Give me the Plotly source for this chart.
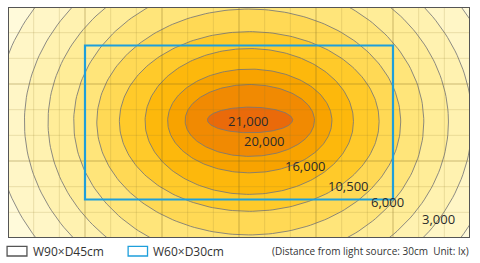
import numpy as np
import plotly.graph_objects as go

# ---- data (cm; x from left edge, y from top edge of a W90 x D45 area) ----
area_w, area_d = 90, 45
rect_w, rect_d = 60, 30
grid_major_step, grid_minor_step = 15, 5
# iso-lux ellipses, outermost first: semi-axes and centres
ell_a = [49.3, 43.6, 39.0, 34.1, 29.6, 25.3, 20.3, 16.0, 12.6, 8.3]
ell_b = [41.5, 36.2, 31.8, 27.3, 22.0, 17.5, 14.2, 10.1, 7.0, 2.5]
ell_cx = [46.8, 46.8, 46.8, 46.9, 46.9, 47.0, 47.0, 47.1, 47.1, 47.15]
ell_cy = [22.4, 22.4, 22.4, 22.4, 22.4, 22.3, 22.3, 22.2, 22.1, 22.0]
label_text = ["21,000", "20,000", "16,000", "10,500", "6,000", "3,000"]
label_x = [46.85, 49.9, 57.9, 66.4, 74.0, 83.8]
label_y = [22.2, 26.1, 31.0, 34.9, 38.0, 41.3]
legend_text = ["W90×D45cm", "W60×D30cm"]
note_text = "(Distance from light source: 30cm  Unit: lx)"

# ---- styles ----
bg_color = "#FFFADA"
band_colors = ["#FFF6C6", "#FFF2B0", "#FFED98", "#FFE57A", "#FFD955",
               "#FFCA2A", "#FDB80C", "#F8A300", "#F18A02", "#EA6A0A"]
contour_line = "rgba(120,120,120,0.85)"
blue = "#1E9FDB"
border = "#555555"
grid_major = "rgba(130,105,30,0.42)"
grid_minor = "rgba(150,130,50,0.20)"
font = "Open Sans"

fig = go.Figure()
t = np.linspace(0, 2 * np.pi, 241)
for a, b, cx, cy, col in zip(ell_a, ell_b, ell_cx, ell_cy, band_colors):
    fig.add_trace(go.Scatter(
        x=cx + a * np.cos(t), y=cy + b * np.sin(t), mode="lines",
        fill="toself", fillcolor=col,
        line=dict(color=contour_line, width=1),
        hoverinfo="skip", showlegend=False))

# grid drawn on top of the fills
for gx in np.arange(grid_minor_step, area_w, grid_minor_step):
    major = gx % grid_major_step == 0
    fig.add_shape(type="line", xref="x", yref="y", x0=gx, x1=gx, y0=0, y1=area_d,
                  line=dict(color=grid_major if major else grid_minor, width=1),
                  layer="above")
for gy in np.arange(grid_minor_step, area_d, grid_minor_step):
    major = gy % grid_major_step == 0
    fig.add_shape(type="line", xref="x", yref="y", x0=0, x1=area_w, y0=gy, y1=gy,
                  line=dict(color=grid_major if major else grid_minor, width=1),
                  layer="above")

# blue rectangle (W60 x D30 centred in area)
rx0 = (area_w - rect_w) / 2
ry0 = (area_d - rect_d) / 2
fig.add_shape(type="rect", xref="x", yref="y", x0=rx0, x1=rx0 + rect_w,
              y0=ry0, y1=ry0 + rect_d, line=dict(color=blue, width=2.2),
              layer="above")
# outer border
fig.add_shape(type="rect", xref="x", yref="y", x0=0, x1=area_w, y0=0, y1=area_d,
              line=dict(color=border, width=2), layer="above")

for txt, lx, ly in zip(label_text, label_x, label_y):
    fig.add_annotation(x=lx, y=ly, xref="x", yref="y", text=txt, showarrow=False,
                       font=dict(family=font, size=13, color="#2a2a2a"))

# legend (manual)
fig.add_shape(type="rect", xref="paper", yref="paper", x0=-0.002, x1=0.041,
              y0=-0.078, y1=-0.036, line=dict(color=border, width=1.3))
fig.add_annotation(x=0.05, y=-0.057, xref="paper", yref="paper", text=legend_text[0],
                   showarrow=False, xanchor="left", yanchor="middle",
                   font=dict(family=font, size=12, color="#333"))
fig.add_shape(type="rect", xref="paper", yref="paper", x0=0.26, x1=0.302,
              y0=-0.078, y1=-0.036, line=dict(color=blue, width=1.3))
fig.add_annotation(x=0.31, y=-0.057, xref="paper", yref="paper", text=legend_text[1],
                   showarrow=False, xanchor="left", yanchor="middle",
                   font=dict(family=font, size=12, color="#333"))
fig.add_annotation(x=1.003, y=-0.057, xref="paper", yref="paper", text=note_text,
                   showarrow=False, xanchor="right", yanchor="middle",
                   font=dict(family=font, size=10, color="#333"))

axis_common = dict(showticklabels=False, ticks="", zeroline=False, showline=False,
                   showgrid=False)
fig.update_xaxes(range=[0, area_w], **axis_common)
fig.update_yaxes(range=[area_d, 0], **axis_common)
fig.update_layout(width=480, height=263, margin=dict(l=8, r=10, t=7, b=25),
                  plot_bgcolor=bg_color, paper_bgcolor="white")
fig.write_html("out.html")
